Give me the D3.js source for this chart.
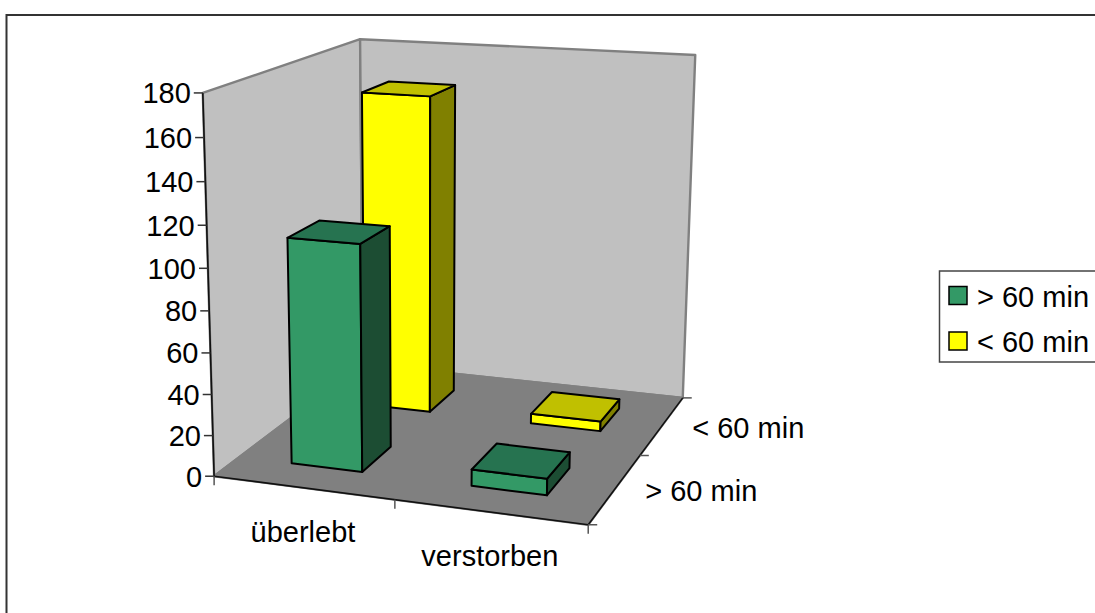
<!DOCTYPE html>
<html>
<head>
<meta charset="utf-8">
<script src="https://cdn.jsdelivr.net/npm/d3@7"></script>
<style>
html,body{margin:0;padding:0;background:#fff}
svg{display:block}
text{font-family:"Liberation Sans",Arial,sans-serif;font-size:29px;fill:#000}
</style>
</head>
<body>
<svg id="chart" width="1095" height="613"></svg>
<script>
// Chart data
const categories = ["überlebt", "verstorben"];
const seriesNames = ["> 60 min", "< 60 min"];
const seriesColors = ["#339966", "#ffff00"];
const topColors = ["#267350", "#c0c000"];
const sideColors = ["#1c4d33", "#808000"];
const valuesLong = [110, 8];   // > 60 min
const valuesShort = [163, 5];  // < 60 min
const seriesValues = [valuesLong, valuesShort];
const valueTicks = [0, 20, 40, 60, 80, 100, 120, 140, 160, 180];

// Box coordinates: x along categories, y along depth, z along height (each 0..1)
const xBand = d3.scaleBand().domain(categories).range([0, 1]).paddingInner(0.6).paddingOuter(0.3);
const yBand = d3.scaleBand().domain(seriesNames).range([0, 1]).paddingInner(0.6).paddingOuter(0.3);
const zScale = d3.scaleLinear().domain([0, 180]).range([0, 1]);

// Known box corners used to derive the camera of the 3D plot
const anchors = [
  [0, 0, 0, 216, 475], [1, 0, 0, 587, 527], [1, 1, 0, 684, 395], [0, 1, 0, 361, 366],
  [0, 0, 1, 202, 92], [0, 1, 1, 361, 39], [1, 1, 1, 695, 56]
];

function solveCamera(pts) {
  const rows = [], rhs = [];
  pts.forEach(([x, y, z, sx, sy]) => {
    const u = sx / 1000, v = sy / 1000;
    rows.push([x, y, z, 1, 0, 0, 0, 0, -u * x, -u * y, -u * z]); rhs.push(u);
    rows.push([0, 0, 0, 0, x, y, z, 1, -v * x, -v * y, -v * z]); rhs.push(v);
  });
  const n = 11;
  const m = d3.range(n).map(i => d3.range(n + 1).map(j =>
    j < n ? rows.reduce((s, r) => s + r[i] * r[j], 0)
          : rows.reduce((s, r, k) => s + r[i] * rhs[k], 0)));
  for (let c = 0; c < n; c++) {
    let p = c;
    for (let r = c + 1; r < n; r++) if (Math.abs(m[r][c]) > Math.abs(m[p][c])) p = r;
    [m[c], m[p]] = [m[p], m[c]];
    for (let r = 0; r < n; r++) {
      if (r === c) continue;
      const f = m[r][c] / m[c][c];
      for (let k = c; k <= n; k++) m[r][k] -= f * m[c][k];
    }
  }
  return m.map((row, i) => row[n] / row[i]);
}
const cam = solveCamera(anchors);
function project(x, y, z) {
  const w = cam[8] * x + cam[9] * y + cam[10] * z + 1;
  return [1000 * (cam[0] * x + cam[1] * y + cam[2] * z + cam[3]) / w,
          1000 * (cam[4] * x + cam[5] * y + cam[6] * z + cam[7]) / w];
}
const polyPath = pts => d3.line()(pts.map(p => project(...p))) + "Z";

const svg = d3.select("#chart");

// Outer chart frame
svg.append("path").attr("d", "M6.5,613V15H1095").attr("fill", "none").attr("stroke", "#333").attr("stroke-width", 2);

// Walls and floor
const planes = [
  { pts: [[0,0,0],[0,1,0],[0,1,1],[0,0,1]], fill: "#c0c0c0" },
  { pts: [[0,1,0],[1,1,0],[1,1,1],[0,1,1]], fill: "#c0c0c0" },
  { pts: [[0,0,0],[1,0,0],[1,1,0],[0,1,0]], fill: "#808080" }
];
svg.append("g").selectAll("path").data(planes).join("path")
  .attr("d", d => polyPath(d.pts)).attr("fill", d => d.fill)
  .attr("stroke", "#808080").attr("stroke-width", 2.4).attr("stroke-linejoin", "round");

// Front edges of the plot box
const edges = [
  [[0,0,0],[0,0,1]], [[0,0,0],[1,0,0]], [[1,0,0],[1,1,0]]
];
svg.append("g").selectAll("path").data(edges).join("path")
  .attr("d", d => d3.line()(d.map(p => project(...p))))
  .attr("stroke", "#111").attr("stroke-width", 1.6).attr("fill", "none");

// Value axis
const valueAxis = svg.append("g").selectAll("g").data(valueTicks).join("g")
  .attr("transform", d => { const p = project(0, 0, zScale(d)); return `translate(${p[0]},${p[1]})`; });
valueAxis.append("line").attr("x1", -9).attr("x2", 0).attr("stroke", "#333").attr("stroke-width", 1.5);
valueAxis.append("text").attr("x", -12).attr("dy", "0.36em").attr("text-anchor", "end").text(d => d);

// Category and depth ticks
const tickStroke = sel => sel.attr("stroke", "#555").attr("stroke-width", 1.5);
svg.append("g").selectAll("line").data([0, 0.5, 1]).join("line")
  .attr("x1", d => project(d, 0, 0)[0]).attr("x2", d => project(d, 0, 0)[0])
  .attr("y1", d => project(d, 0, 0)[1]).attr("y2", d => project(d, 0, 0)[1] + 9)
  .call(tickStroke);
svg.append("g").selectAll("line").data([0, 0.5, 1]).join("line")
  .attr("x1", d => project(1, d, 0)[0]).attr("x2", d => project(1, d, 0)[0] + 9)
  .attr("y1", d => project(1, d, 0)[1]).attr("y2", d => project(1, d, 0)[1])
  .call(tickStroke);

// Category labels below the front edge
svg.append("g").selectAll("text").data(categories).join("text")
  .attr("text-anchor", "middle")
  .attr("x", d => project(xBand(d) + xBand.bandwidth() / 2, 0, 0)[0])
  .attr("y", d => project(xBand(d) + xBand.bandwidth() / 2, 0, 0)[1] + 54)
  .text(d => d);

// Depth labels beside the right edge
svg.append("g").selectAll("text").data(seriesNames).join("text")
  .attr("x", d => project(1, yBand(d) + yBand.bandwidth() / 2, 0)[0] + 30)
  .attr("y", d => project(1, yBand(d) + yBand.bandwidth() / 2, 0)[1] + 13)
  .text(d => d);

// Columns, painted back to front
const boxes = [];
[1, 0].forEach(s => categories.forEach((c, i) => boxes.push({
  x0: xBand(c), x1: xBand(c) + xBand.bandwidth(),
  y0: yBand(seriesNames[s]), y1: yBand(seriesNames[s]) + yBand.bandwidth(),
  z: zScale(seriesValues[s][i]), s
})));
const box = svg.append("g").selectAll("g").data(boxes).join("g")
  .attr("stroke", "#000").attr("stroke-width", 2).attr("stroke-linejoin", "round");
box.append("path").attr("fill", d => seriesColors[d.s])
  .attr("d", d => polyPath([[d.x0,d.y0,0],[d.x1,d.y0,0],[d.x1,d.y0,d.z],[d.x0,d.y0,d.z]]));
box.append("path").attr("fill", d => sideColors[d.s])
  .attr("d", d => polyPath([[d.x1,d.y0,0],[d.x1,d.y1,0],[d.x1,d.y1,d.z],[d.x1,d.y0,d.z]]));
box.append("path").attr("fill", d => topColors[d.s])
  .attr("d", d => polyPath([[d.x0,d.y0,d.z],[d.x1,d.y0,d.z],[d.x1,d.y1,d.z],[d.x0,d.y1,d.z]]));

// Legend
const legend = svg.append("g");
legend.append("rect").attr("x", 939.5).attr("y", 271).attr("width", 170).attr("height", 91)
  .attr("fill", "#fff").attr("stroke", "#444").attr("stroke-width", 1.5);
const legendY = d3.scalePoint().domain(seriesNames).range([295.5, 341]);
const entry = legend.selectAll("g").data(seriesNames).join("g")
  .attr("transform", d => `translate(0,${legendY(d)})`);
entry.append("rect").attr("x", 949).attr("y", -9).attr("width", 18).attr("height", 18)
  .attr("fill", (d, i) => seriesColors[i]).attr("stroke", "#000").attr("stroke-width", 1.5);
entry.append("text").attr("x", 977).attr("y", 1).attr("dy", "0.36em").text(d => d);
</script>
</body>
</html>
